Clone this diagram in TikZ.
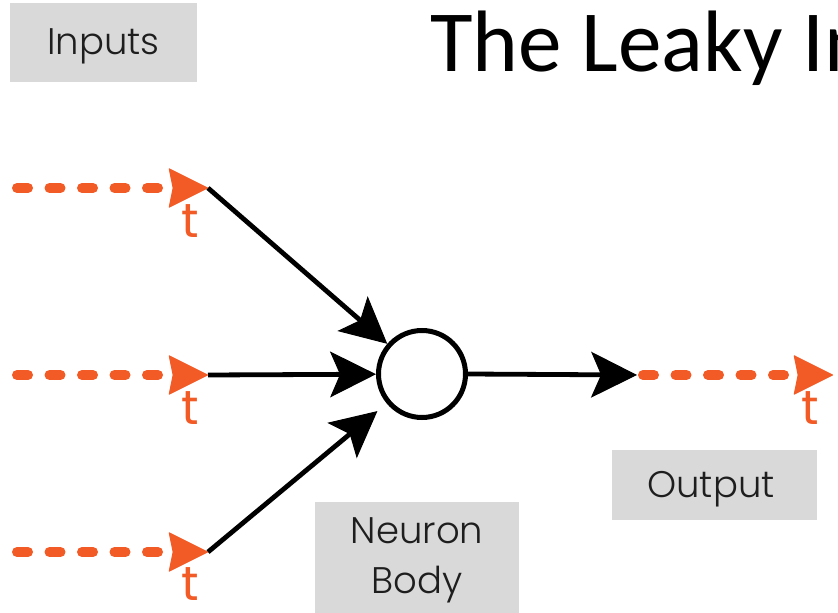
\documentclass[tikz,border=0pt]{standalone}
\usepackage{fontspec}
\usetikzlibrary{arrows.meta}
\newfontfamily\titlefont{Carlito}
\newfontfamily\labelfont{Poppins Light}
\newfontfamily\tickfont{Poppins}
\definecolor{spike}{RGB}{242,90,38}
\definecolor{boxgray}{RGB}{217,217,217}
\definecolor{labelink}{RGB}{30,30,30}
\tikzset{
  graybox/.style={fill=boxgray, draw=none, inner sep=0pt},
  boxlabel/.style={anchor=base, inner sep=0pt, text=labelink, font=\labelfont\fontsize{18.5}{25}\selectfont},
  spiketrain/.style={draw=spike, line width=5pt, line cap=round, dash pattern=on 5.5pt off 10.75pt,
     -{Stealth[length=20pt, width=20pt, inset=2pt, line width=0.5pt, round]}},
  synapse/.style={draw=black, line width=2.4pt,
     -{Stealth[length=23pt, width=23pt, inset=5pt, line width=0.5pt]}},
  ticklabel/.style={text=spike, font=\tickfont\fontsize{24}{24}\selectfont, inner sep=0pt},
}
\begin{document}
\begin{tikzpicture}[x=0.5pt, y=-0.5pt]
\useasboundingbox (0,0) rectangle (838,613);
\clip (0,0) rectangle (838,613);

% title
\node[anchor=base west, inner sep=0pt, font=\titlefont\fontsize{43.6}{44}\selectfont] (title) at (430,72) {The Leaky In};

% label boxes
\node[graybox, minimum width=93.5pt, minimum height=39.5pt] (inputs) at (103.5,42.5) {};
\node[boxlabel] (inputstxt) at (103.5,55) {Inputs};
\node[graybox, minimum width=102.5pt, minimum height=35pt] (output) at (714.5,485) {};
\node[boxlabel] (outputtxt) at (711,497) {Output};
\node[graybox, minimum width=102pt, minimum height=57pt] (body) at (417,559) {};
\node[boxlabel] (bodytxt1) at (417,543) {Neuron};
\node[boxlabel] (bodytxt2) at (417,593) {Body};

% neuron body
\node[draw=black, line width=2.5pt, circle, minimum size=43.5pt, inner sep=0pt] (neuron) at (422,374) {};

% incoming spike trains
\coordinate (s1) at (17,188);  \coordinate (in1) at (208,188);
\coordinate (s2) at (17,375);  \coordinate (in2) at (208,375);
\coordinate (s3) at (17,552);  \coordinate (in3) at (208,552);
\draw[spiketrain] (s1) -- (in1);
\draw[spiketrain] (s2) -- (in2);
\draw[spiketrain] (s3) -- (in3);
\node[ticklabel] (t1) at (190,221) {t};
\node[ticklabel] (t2) at (190,408) {t};
\node[ticklabel] (t3) at (190,584) {t};

% synaptic connections
\draw[synapse] (in1) -- (neuron);
\draw[synapse] (in2) -- (neuron);
\draw[synapse, shorten >=6pt] (in3) -- (neuron);

% outgoing spike train
\coordinate (out) at (637,375);
\coordinate (outend) at (833,375);
\draw[synapse] (neuron.east) -- (out);
\draw[spiketrain, shorten <=3pt] (out) -- (outend);
\node[ticklabel] (t4) at (810,408) {t};
\end{tikzpicture}
\end{document}
